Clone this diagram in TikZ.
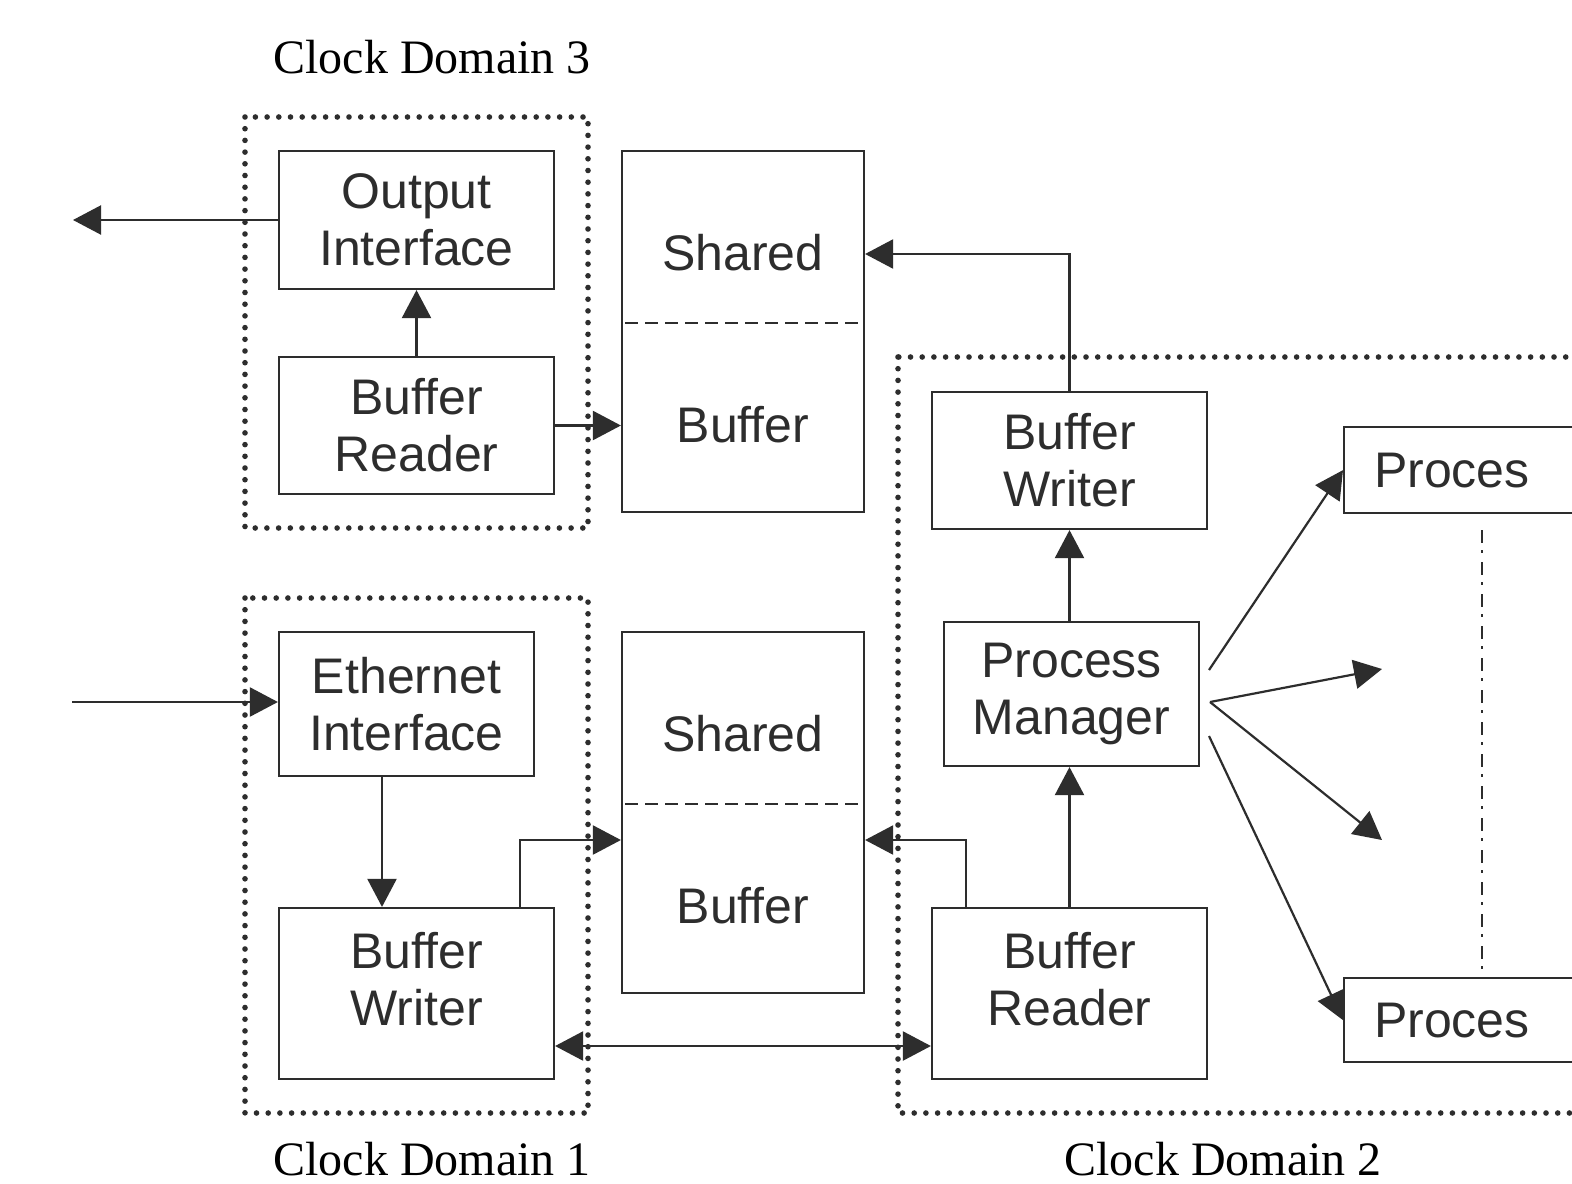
\documentclass[tikz,border=0pt]{standalone}
\usepackage{fontspec}
\setmainfont{Liberation Serif}
\newfontfamily\boxfont{Liberation Sans}
\usetikzlibrary{arrows.meta,calc}
\definecolor{ink}{RGB}{45,45,45}
\begin{document}
\begin{tikzpicture}[x=0.5pt,y=-0.5pt,
  box/.style={draw=ink, line width=1.1pt, text=ink, font=\boxfont\fontsize{25}{28.5}\selectfont, align=center, inner sep=0pt},
  wire/.style={draw=ink, line width=1.1pt},
  arr/.style={wire, -{Triangle[length=14pt,width=14.5pt]}},
  darr/.style={wire, {Triangle[length=14pt,width=14.5pt]}-{Triangle[length=14pt,width=14.5pt]}},
  region/.style={draw=ink, line width=2.8pt, line cap=round, dash pattern=on 0pt off 5.85pt},
  divider/.style={draw=ink, line width=1.1pt, dash pattern=on 6.5pt off 3.5pt},
  dashdot/.style={draw=ink, line width=1.4pt, dash pattern=on 6.5pt off 3.5pt on 1.5pt off 4.5pt},
  title/.style={font=\fontsize{24}{28}\selectfont, anchor=base, inner sep=0pt, text=black},
  lbl/.style={text=ink, font=\boxfont\fontsize{25}{28.5}\selectfont, inner sep=0pt},
]
\fill[white] (0,0) rectangle (1572,1183);
\useasboundingbox (0,0) rectangle (1572,1183);

% clock domain regions
\draw[region] (245,117) rectangle (588,528);
\draw[region] (245,598) rectangle (588,1113);
\draw[region] (898,357) rectangle (1640,1113);

% titles
\node[title] (cd3) at (432,73) {Clock Domain 3};
\node[title] (cd1) at (432,1175) {Clock Domain 1};
\node[title] (cd2) at (1223,1175) {Clock Domain 2};

% boxes
\node[box, minimum width=137.5pt, minimum height=69pt] (oi) at (416.5,220) {Output\\Interface};
\node[box, minimum width=137.5pt, minimum height=68.5pt] (brt) at (416.5,425.5) {Buffer\\Reader};
\node[box, minimum width=121pt, minimum height=180.5pt] (sbt) at (743,331.5) {};
\node[lbl] (sbts) at (743,253) {Shared};
\node[lbl] (sbtb) at (743,425) {Buffer};
\draw[divider] (625,323) -- (858,323);

\node[box, minimum width=127.5pt, minimum height=72pt] (ei) at (406.5,704) {Ethernet\\Interface};
\node[box, minimum width=137.5pt, minimum height=85.5pt, text depth=15pt] (bwl) at (416.5,993.5) {Buffer\\Writer};
\node[box, minimum width=121pt, minimum height=180.5pt] (sbb) at (743,812.5) {};
\node[lbl] (sbbs) at (743,734) {Shared};
\node[lbl] (sbbb) at (743,906) {Buffer};
\draw[divider] (625,804) -- (858,804);

\node[box, minimum width=137.5pt, minimum height=68.5pt] (bwr) at (1069.5,460.5) {Buffer\\Writer};
\node[box, minimum width=127.5pt, minimum height=72pt] (pm) at (1071.5,694) {Process\\Manager};
\node[box, minimum width=137.5pt, minimum height=85.5pt, text depth=15pt] (brr) at (1069.5,993.5) {Buffer\\Reader};

\node[box, anchor=north west, minimum height=43pt, text width=130pt, inner xsep=15pt, align=left] (p1) at (1343,426) {Proces};
\node[box, anchor=north west, minimum height=42pt, text width=130pt, inner xsep=15pt, align=left] (p2) at (1343,977) {Proces};

% helper coordinates
\coordinate (out) at (73,220);
\coordinate (in) at (72,702);
\coordinate (x382) at (382,0);
\coordinate (x520) at (520,0);
\coordinate (x966) at (966,0);
\coordinate (y840) at (0,840);
\coordinate (y254) at (0,254);
\coordinate (y1046) at (0,1046);
\coordinate (a1) at (1209,670);
\coordinate (a2) at (1210,702);
\coordinate (a3) at (1209,736);
\coordinate (t2) at (1382,669);
\coordinate (t3) at (1382,840);
\coordinate (dd) at (1482,530);

% connectors
\draw[arr] (oi.west) -- (out);
\draw[arr] (brt.north) -- (oi.south);
\draw[arr] (brt.east) -- (sbt.west |- brt.east);
\draw[arr] (in) -- (in -| ei.west);
\draw[arr] (ei.south -| x382) -- (bwl.north -| x382);
\draw[arr] (bwl.north -| x520) |- (sbb.west |- y840);
\draw[arr] (bwr.north) |- (sbt.east |- y254);
\draw[arr] (pm.north -| bwr.south) -- (bwr.south);
\draw[arr] (brr.north) -- (pm.south -| brr.north);
\draw[arr] (brr.north -| x966) |- (sbb.east |- y840);
\draw[darr] (bwl.east |- y1046) -- (brr.west |- y1046);
\draw[arr] (a1) -- (p1.west);
\draw[arr] (a2) -- (t2);
\draw[arr] (a2) -- (t3);
\draw[arr] (a3) -- (p2.west);
\draw[dashdot] (dd) -- (p2.north -| dd);
\end{tikzpicture}
\end{document}
